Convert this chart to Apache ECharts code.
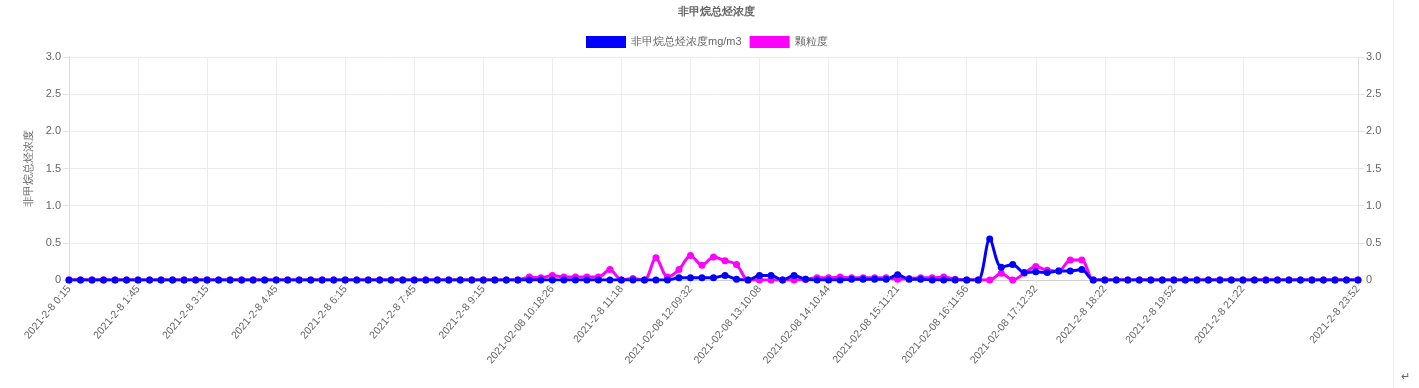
<!DOCTYPE html>
<html>
<head>
<meta charset="utf-8">
<script src="https://cdn.jsdelivr.net/npm/echarts@6/dist/echarts.min.js"></script>
<style>
html,body{margin:0;padding:0;background:#fff;}
#chart{width:1419px;height:388px;}
</style>
</head>
<body>
<div id="chart"></div>
<script>
const categories = [
"2021-2-8 0:15","2021-2-8 0:30","2021-2-8 0:45","2021-2-8 1:00","2021-2-8 1:15","2021-2-8 1:30","2021-2-8 1:45","2021-2-8 2:00","2021-2-8 2:15","2021-2-8 2:30",
"2021-2-8 2:45","2021-2-8 3:00","2021-2-8 3:15","2021-2-8 3:30","2021-2-8 3:45","2021-2-8 4:00","2021-2-8 4:15","2021-2-8 4:30","2021-2-8 4:45","2021-2-8 5:00",
"2021-2-8 5:15","2021-2-8 5:30","2021-2-8 5:45","2021-2-8 6:00","2021-2-8 6:15","2021-2-8 6:30","2021-2-8 6:45","2021-2-8 7:00","2021-2-8 7:15","2021-2-8 7:30",
"2021-2-8 7:45","2021-2-8 8:00","2021-2-8 8:15","2021-2-8 8:30","2021-2-8 8:45","2021-2-8 9:00","2021-2-8 9:15","2021-2-8 9:30","2021-2-8 9:45","2021-02-08 09:58:02",
"2021-02-08 10:03:10","2021-02-08 10:08:18","2021-02-08 10:18:26","2021-02-08 10:28:32","2021-02-08 10:38:38","2021-02-08 10:48:44","2021-02-08 10:58:50","2021-02-08 11:08:56","2021-2-8 11:18","2021-02-08 11:29:02",
"2021-02-08 11:39:08","2021-02-08 11:49:14","2021-02-08 11:59:20","2021-02-08 12:04:26","2021-02-08 12:09:32","2021-02-08 12:19:38","2021-02-08 12:29:44","2021-02-08 12:39:50","2021-02-08 12:49:56","2021-02-08 13:00:02",
"2021-02-08 13:10:08","2021-02-08 13:20:14","2021-02-08 13:30:20","2021-02-08 13:40:26","2021-02-08 13:50:32","2021-02-08 14:00:38","2021-02-08 14:10:44","2021-02-08 14:20:50","2021-02-08 14:30:56","2021-02-08 14:41:02",
"2021-02-08 14:51:08","2021-02-08 15:01:14","2021-02-08 15:11:21","2021-02-08 15:21:27","2021-02-08 15:31:33","2021-02-08 15:41:39","2021-02-08 15:51:45","2021-02-08 16:01:50","2021-02-08 16:11:56","2021-02-08 16:22:02",
"2021-02-08 16:32:08","2021-02-08 16:42:14","2021-02-08 16:52:20","2021-02-08 17:02:26","2021-02-08 17:12:32","2021-02-08 17:22:38","2021-02-08 17:32:44","2021-02-08 17:42:50","2021-02-08 17:52:56","2021-2-8 18:07",
"2021-2-8 18:22","2021-2-8 18:37","2021-2-8 18:52","2021-2-8 19:07","2021-2-8 19:22","2021-2-8 19:37","2021-2-8 19:52","2021-2-8 20:07","2021-2-8 20:22","2021-2-8 20:37",
"2021-2-8 20:52","2021-2-8 21:07","2021-2-8 21:22","2021-2-8 21:37","2021-2-8 21:52","2021-2-8 22:07","2021-2-8 22:22","2021-2-8 22:37","2021-2-8 22:52","2021-2-8 23:07",
"2021-2-8 23:22","2021-2-8 23:37","2021-2-8 23:52"
];

const nmhc = [
0,0,0,0,0,0,0,0,0,0,
0,0,0,0,0,0,0,0,0,0,
0,0,0,0,0,0,0,0,0,0,
0,0,0,0,0,0,0,0,0,0,
0,0,0,0,0,0,0,0,0,0,
0,0,0,0.03,0.03,0.03,0.03,0.06,0.01,0,
0.06,0.06,0,0.06,0.01,0,0,0,0.01,0.01,
0.01,0.01,0.07,0.01,0.01,0,0,0,0,0,
0.55,0.17,0.21,0.10,0.11,0.10,0.12,0.12,0.14,0,
0,0,0,0,0,0,0,0,0,0,
0,0,0,0,0,0,0,0,0,0,
0,0,0
];

const particle = [
0,0,0,0,0,0,0,0,0,0,
0,0,0,0,0,0,0,0,0,0,
0,0,0,0,0,0,0,0,0,0,
0,0,0,0,0,0,0,0,0,0,
0.04,0.03,0.06,0.04,0.04,0.04,0.04,0.14,0,0.02,
0,0.30,0.04,0.14,0.33,0.20,0.31,0.26,0.21,0,
0,0,0,0,0.01,0.03,0.03,0.04,0.03,0.03,
0.03,0.03,0.01,0.02,0.03,0.03,0.04,0.01,0,0,
0,0.09,0,0.09,0.18,0.13,0.12,0.27,0.27,0,
0,0,0,0,0,0,0,0,0,0,
0,0,0,0,0,0,0,0,0,0,
0,0,0
];

const seriesNames = ["非甲烷总烃浓度mg/m3", "颗粒度"];
const titleText = "非甲烷总烃浓度";
const yAxisName = "非甲烷总烃浓度";

const lastIdx = categories.length - 1;
const showIdx = (i) => (i % 6 === 0 && i <= lastIdx - 10) || i === lastIdx;
const fmtY = (v) => v === 0 ? '0' : v.toFixed(1);
const FONT = 'Liberation Sans, Arial, sans-serif';

const yAxisBase = {
  type: 'value', min: 0, max: 3, interval: 0.5,
  axisLine: {show: true, lineStyle: {color: '#dcdcdc'}},
  axisTick: {show: true, length: 6, lineStyle: {color: '#e2e2e2'}},
  splitLine: {show: true, lineStyle: {color: '#ececec'}},
  axisLabel: {formatter: fmtY, color: '#666', fontSize: 11, fontFamily: FONT, margin: 8}
};

const chart = echarts.init(document.getElementById('chart'));
chart.setOption({
  animation: false,
  title: {
    text: titleText, left: 673, top: 1, padding: 5,
    textStyle: {fontSize: 11, fontWeight: 'bold', color: '#666', fontFamily: FONT}
  },
  legend: {
    data: seriesNames, left: 586, top: 36, padding: 0,
    itemWidth: 40, itemHeight: 12, itemGap: 8, icon: 'rect',
    textStyle: {fontSize: 11, color: '#666', fontFamily: FONT}
  },
  grid: {left: 69, right: 61, top: 57, bottom: 108, containLabel: false},
  xAxis: {
    type: 'category', data: categories, boundaryGap: false,
    axisLine: {show: true, lineStyle: {color: '#cfcfcf'}},
    axisTick: {show: true, length: 6, interval: (i) => showIdx(i), lineStyle: {color: '#e2e2e2'}},
    splitLine: {show: true, interval: (i) => showIdx(i), lineStyle: {color: '#ececec'}},
    axisLabel: {interval: (i) => showIdx(i), rotate: 50, color: '#666', fontSize: 10.6, fontFamily: FONT, margin: 7}
  },
  yAxis: [
    Object.assign({}, yAxisBase, {
      position: 'left', name: yAxisName, nameLocation: 'middle', nameGap: 34, nameRotate: 90,
      nameTextStyle: {color: '#666', fontSize: 11, fontFamily: FONT}
    }),
    Object.assign({}, yAxisBase, {position: 'right', splitLine: {show: false}})
  ],
  series: [
    {
      name: seriesNames[1], type: 'line', data: particle, yAxisIndex: 0,
      smooth: 0.3, symbol: 'circle', symbolSize: 7, showSymbol: true,
      lineStyle: {width: 3, color: '#ff00ff'}, itemStyle: {color: '#ff00ff'}
    },
    {
      name: seriesNames[0], type: 'line', data: nmhc, yAxisIndex: 0,
      smooth: 0.3, symbol: 'circle', symbolSize: 7, showSymbol: true,
      lineStyle: {width: 3, color: '#0000ff'}, itemStyle: {color: '#0000ff'}
    }
  ],
  graphic: [
    {type: 'line', shape: {x1: 1393.5, y1: 0, x2: 1393.5, y2: 388}, style: {stroke: '#eeeeee', lineWidth: 1}, silent: true},
    {type: 'text', left: 1401, top: 371, style: {text: '↵', fill: '#666', fontSize: 11, fontFamily: FONT}, silent: true}
  ]
});
</script>
</body>
</html>
